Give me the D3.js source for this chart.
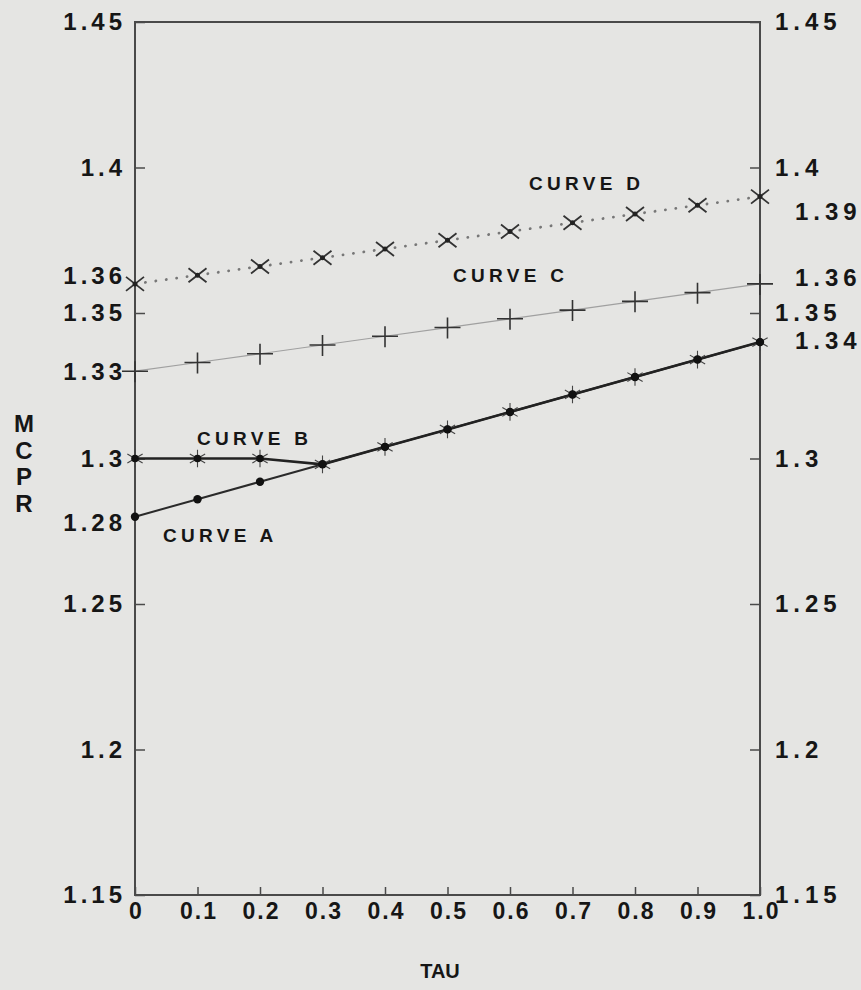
<!DOCTYPE html>
<html>
<head>
<meta charset="utf-8">
<script src="https://cdn.jsdelivr.net/npm/d3@7"></script>
<style>
  html, body { margin: 0; padding: 0; background: #e5e5e3; }
  svg text { font-family: "Liberation Sans", Arial, Helvetica, sans-serif; font-weight: bold; fill: #161616; }
</style>
</head>
<body>
<svg id="chart" width="861" height="990"></svg>
<script>
'use strict';

// values
const tau = [0, 0.1, 0.2, 0.3, 0.4, 0.5, 0.6, 0.7, 0.8, 0.9, 1.0];
const curveA = [1.280, 1.286, 1.292, 1.298, 1.304, 1.310, 1.316, 1.322, 1.328, 1.334, 1.340];
const curveB = [1.300, 1.300, 1.300, 1.298, 1.304, 1.310, 1.316, 1.322, 1.328, 1.334, 1.340];
const curveC = [1.330, 1.333, 1.336, 1.339, 1.342, 1.345, 1.348, 1.351, 1.354, 1.357, 1.360];
const curveD = [1.360, 1.363, 1.366, 1.369, 1.372, 1.375, 1.378, 1.381, 1.384, 1.387, 1.390];

const yTicks = [1.45, 1.4, 1.35, 1.3, 1.25, 1.2, 1.15];
const leftExtra = [1.36, 1.33, 1.28];   // start values printed on the left
const rightExtra = [1.39, 1.36, 1.34];  // end values printed on the right
const curveNames = ['CURVE A', 'CURVE B', 'CURVE C', 'CURVE D'];

const svg = d3.select('#chart');

const x = d3.scaleLinear().domain([0, 1]).range([135, 760]);
const y = d3.scaleLinear().domain([1.15, 1.45]).range([895, 22]);

const fmtY = (d) => String(+d.toFixed(2));
const fmtX = (d) => (d === 0 ? '0' : d3.format('.1f')(d));

// frame
svg
  .append('rect')
  .attr('x', x(0))
  .attr('y', y(1.45))
  .attr('width', x(1) - x(0))
  .attr('height', y(1.15) - y(1.45))
  .attr('fill', 'none')
  .attr('stroke', '#4a4a4a')
  .attr('stroke-width', 2);

const styleAxis = (size, spacing) => (g) => {
  g.select('.domain').remove();
  g.selectAll('.tick line').attr('stroke', '#4a4a4a').attr('stroke-width', 1.5);
  g.selectAll('.tick text')
    .attr('fill', '#161616')
    .style('font-size', size + 'px')
    .style('letter-spacing', spacing + 'px');
};

svg
  .append('g')
  .attr('transform', `translate(${x(0)},0)`)
  .call(
    d3.axisLeft(y).tickValues(yTicks).tickSizeInner(-10).tickSizeOuter(0)
      .tickPadding(9).tickFormat(fmtY)
  )
  .call(styleAxis(24, 4));

svg
  .append('g')
  .attr('transform', `translate(${x(1)},0)`)
  .call(
    d3.axisRight(y).tickValues(yTicks).tickSizeInner(-10).tickSizeOuter(0)
      .tickPadding(15).tickFormat(fmtY)
  )
  .call(styleAxis(24, 5));

svg
  .append('g')
  .attr('transform', `translate(0,${y(1.15)})`)
  .call(
    d3.axisBottom(x).tickValues(tau).tickSizeInner(-8).tickSizeOuter(0)
      .tickPadding(8).tickFormat(fmtX)
  )
  .call(styleAxis(23, 2))
  .call((g) => g.selectAll('.tick text').attr('dx', '1px'));

// extra value labels beside the axes (nudged apart where they crowd)
const leftNudge = { 1.36: -8, 1.33: 0, 1.28: 6 };
const rightNudge = { 1.39: 15, 1.36: -6, 1.34: -2 };

svg
  .append('g')
  .selectAll('text')
  .data(leftExtra)
  .join('text')
  .attr('x', x(0) - 9)
  .attr('y', (d) => y(d) + leftNudge[d])
  .attr('dy', '0.35em')
  .attr('text-anchor', 'end')
  .style('font-size', '24px')
  .style('letter-spacing', '4px')
  .text(fmtY);

svg
  .append('g')
  .selectAll('text')
  .data(rightExtra)
  .join('text')
  .attr('x', x(1) + 35)
  .attr('y', (d) => y(d) + rightNudge[d])
  .attr('dy', '0.35em')
  .style('font-size', '24px')
  .style('letter-spacing', '5px')
  .text(fmtY);

// axis titles
svg
  .append('text')
  .attr('x', 440)
  .attr('y', 978)
  .attr('text-anchor', 'middle')
  .style('font-size', '20px')
  .text('TAU');

svg
  .append('g')
  .selectAll('text')
  .data('MCPR'.split(''))
  .join('text')
  .attr('x', 24)
  .attr('y', (d, i) => 432 + i * 26.5)
  .attr('text-anchor', 'middle')
  .style('font-size', '24px')
  .text((d) => d);

// curves
const pts = (vals) => vals.map((v, i) => [tau[i], v]);
const line = d3.line().x((d) => x(d[0])).y((d) => y(d[1]));

const gLines = svg.append('g');

gLines
  .append('path')
  .attr('d', line(pts(curveC)))
  .attr('fill', 'none')
  .attr('stroke', '#a0a0a0')
  .attr('stroke-width', 1.2);

gLines
  .append('path')
  .attr('d', line(pts(curveD)))
  .attr('fill', 'none')
  .attr('stroke', '#777')
  .attr('stroke-width', 2.8)
  .attr('stroke-linecap', 'round')
  .attr('stroke-dasharray', '0.1 10.4');

gLines
  .append('path')
  .attr('d', line(pts(curveA)))
  .attr('fill', 'none')
  .attr('stroke', '#2a2a2a')
  .attr('stroke-width', 2);

gLines
  .append('path')
  .attr('d', line(pts(curveB)))
  .attr('fill', 'none')
  .attr('stroke', '#222')
  .attr('stroke-width', 2.6);

// markers
const gMarks = svg.append('g');

// curve C: plus
gMarks
  .selectAll('.mc')
  .data(pts(curveC))
  .join('path')
  .attr('class', 'mc')
  .attr('transform', (d) => `translate(${x(d[0])},${y(d[1])})`)
  .attr('d', 'M-13,0H13M0,-10V11')
  .attr('stroke', '#333')
  .attr('stroke-width', 1.6)
  .attr('fill', 'none');

// curve D: x
gMarks
  .selectAll('.md')
  .data(pts(curveD))
  .join('g')
  .attr('class', 'md')
  .attr('transform', (d) => `translate(${x(d[0])},${y(d[1])})`)
  .call((g) =>
    g
      .append('path')
      .attr('d', 'M-9,-7L9,7M-9,7L9,-7')
      .attr('stroke', '#333')
      .attr('stroke-width', 1.8)
      .attr('fill', 'none')
  )
  .call((g) => g.append('circle').attr('r', 2.5).attr('fill', '#222'));

// curve B: asterisk
gMarks
  .selectAll('.mb')
  .data(pts(curveB))
  .join('path')
  .attr('class', 'mb')
  .attr('transform', (d) => `translate(${x(d[0])},${y(d[1])})`)
  .attr('d', d3.symbol(d3.symbolAsterisk, 220))
  .attr('stroke', '#444')
  .attr('stroke-width', 1.1)
  .attr('fill', 'none');

// curve A: dot
gMarks
  .selectAll('.ma')
  .data(pts(curveA))
  .join('circle')
  .attr('class', 'ma')
  .attr('cx', (d) => x(d[0]))
  .attr('cy', (d) => y(d[1]))
  .attr('r', 4.2)
  .attr('fill', '#111');

gMarks
  .selectAll('.mb2')
  .data(pts(curveB))
  .join('circle')
  .attr('class', 'mb2')
  .attr('cx', (d) => x(d[0]))
  .attr('cy', (d) => y(d[1]))
  .attr('r', 3.8)
  .attr('fill', '#111');

// curve labels
const labelPos = [
  [163, 542],
  [197, 445],
  [453, 282],
  [529, 190],
];

svg
  .append('g')
  .selectAll('text')
  .data(curveNames)
  .join('text')
  .attr('x', (d, i) => labelPos[i][0])
  .attr('y', (d, i) => labelPos[i][1])
  .style('font-size', '19px')
  .style('letter-spacing', '4.3px')
  .text((d) => d);
</script>
</body>
</html>
